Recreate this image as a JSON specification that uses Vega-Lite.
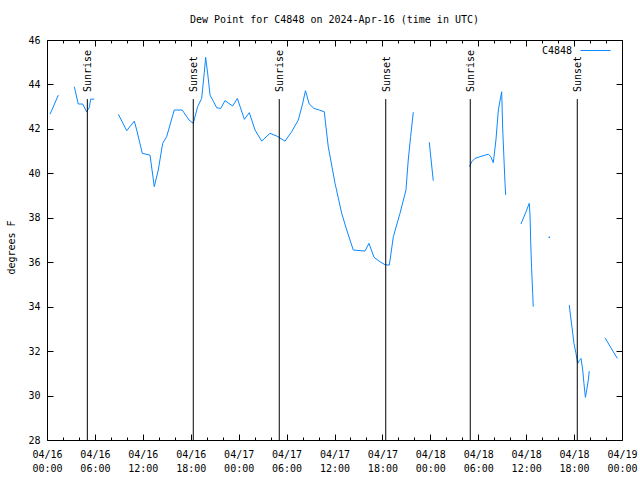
{
  "$schema": "https://vega.github.io/schema/vega-lite/v6.json",
  "width": 575,
  "height": 400,
  "autosize": "none",
  "padding": {"left": 47, "top": 40, "right": 18, "bottom": 40},
  "background": "white",
  "config": {
    "view": {"stroke": "black", "strokeWidth": 1},
    "font": "DejaVu Sans Mono",
    "axis": {
      "labelFont": "DejaVu Sans Mono", "labelFontSize": 10, "labelColor": "black",
      "tickColor": "black", "tickWidth": 1, "grid": false, "domain": false,
      "titleFont": "DejaVu Sans Mono", "titleFontSize": 10, "titleFontWeight": "normal", "titleColor": "black",
      "labelFlush": false, "labelOverlap": false
    },
    "legend": {"labelFont": "DejaVu Sans Mono", "labelFontSize": 10, "labelColor": "black"}
  },
  "title": {"text": "Dew Point for C4848 on 2024-Apr-16 (time in UTC)", "font": "DejaVu Sans Mono", "fontSize": 10, "fontWeight": "normal", "color": "black", "anchor": "middle", "offset": 10},
  "datasets": {
    "dew": [
      {"t": "2024-04-16T00:23:00Z", "v": 42.66, "s": 1},
      {"t": "2024-04-16T01:25:00Z", "v": 43.52, "s": 1},
      {"t": "2024-04-16T03:25:00Z", "v": 43.9, "s": 2},
      {"t": "2024-04-16T03:55:00Z", "v": 43.12, "s": 2},
      {"t": "2024-04-16T04:28:00Z", "v": 43.12, "s": 2},
      {"t": "2024-04-16T04:58:00Z", "v": 42.77, "s": 2},
      {"t": "2024-04-16T05:18:00Z", "v": 42.97, "s": 2},
      {"t": "2024-04-16T05:28:00Z", "v": 43.34, "s": 2},
      {"t": "2024-04-16T05:55:00Z", "v": 43.34, "s": 2},
      {"t": "2024-04-16T08:56:00Z", "v": 42.66, "s": 3},
      {"t": "2024-04-16T09:59:00Z", "v": 41.92, "s": 3},
      {"t": "2024-04-16T10:56:00Z", "v": 42.35, "s": 3},
      {"t": "2024-04-16T11:14:00Z", "v": 41.95, "s": 3},
      {"t": "2024-04-16T11:56:00Z", "v": 40.9, "s": 3},
      {"t": "2024-04-16T12:54:00Z", "v": 40.82, "s": 3},
      {"t": "2024-04-16T13:26:00Z", "v": 39.4, "s": 3},
      {"t": "2024-04-16T13:56:00Z", "v": 40.15, "s": 3},
      {"t": "2024-04-16T14:29:00Z", "v": 41.35, "s": 3},
      {"t": "2024-04-16T14:59:00Z", "v": 41.65, "s": 3},
      {"t": "2024-04-16T15:56:00Z", "v": 42.85, "s": 3},
      {"t": "2024-04-16T16:56:00Z", "v": 42.85, "s": 3},
      {"t": "2024-04-16T17:47:00Z", "v": 42.4, "s": 3},
      {"t": "2024-04-16T18:19:00Z", "v": 42.25, "s": 3},
      {"t": "2024-04-16T18:52:00Z", "v": 43.0, "s": 3},
      {"t": "2024-04-16T19:22:00Z", "v": 43.37, "s": 3},
      {"t": "2024-04-16T19:42:00Z", "v": 44.55, "s": 3},
      {"t": "2024-04-16T19:52:00Z", "v": 45.22, "s": 3},
      {"t": "2024-04-16T20:07:00Z", "v": 44.5, "s": 3},
      {"t": "2024-04-16T20:25:00Z", "v": 43.52, "s": 3},
      {"t": "2024-04-16T20:49:00Z", "v": 43.25, "s": 3},
      {"t": "2024-04-16T21:15:00Z", "v": 42.95, "s": 3},
      {"t": "2024-04-16T21:45:00Z", "v": 42.92, "s": 3},
      {"t": "2024-04-16T22:17:00Z", "v": 43.27, "s": 3},
      {"t": "2024-04-16T23:15:00Z", "v": 43.03, "s": 3},
      {"t": "2024-04-16T23:50:00Z", "v": 43.37, "s": 3},
      {"t": "2024-04-17T00:43:00Z", "v": 42.43, "s": 3},
      {"t": "2024-04-17T01:20:00Z", "v": 42.73, "s": 3},
      {"t": "2024-04-17T02:03:00Z", "v": 41.95, "s": 3},
      {"t": "2024-04-17T02:53:00Z", "v": 41.45, "s": 3},
      {"t": "2024-04-17T03:55:00Z", "v": 41.8, "s": 3},
      {"t": "2024-04-17T04:46:00Z", "v": 41.68, "s": 3},
      {"t": "2024-04-17T05:48:00Z", "v": 41.45, "s": 3},
      {"t": "2024-04-17T06:38:00Z", "v": 41.87, "s": 3},
      {"t": "2024-04-17T07:28:00Z", "v": 42.4, "s": 3},
      {"t": "2024-04-17T07:58:00Z", "v": 43.07, "s": 3},
      {"t": "2024-04-17T08:22:00Z", "v": 43.72, "s": 3},
      {"t": "2024-04-17T08:50:00Z", "v": 43.12, "s": 3},
      {"t": "2024-04-17T09:26:00Z", "v": 42.92, "s": 3},
      {"t": "2024-04-17T10:06:00Z", "v": 42.85, "s": 3},
      {"t": "2024-04-17T10:43:00Z", "v": 42.77, "s": 3},
      {"t": "2024-04-17T11:13:00Z", "v": 41.2, "s": 3},
      {"t": "2024-04-17T12:04:00Z", "v": 39.55, "s": 3},
      {"t": "2024-04-17T12:54:00Z", "v": 38.2, "s": 3},
      {"t": "2024-04-17T13:32:00Z", "v": 37.45, "s": 3},
      {"t": "2024-04-17T14:21:00Z", "v": 36.55, "s": 3},
      {"t": "2024-04-17T15:49:00Z", "v": 36.5, "s": 3},
      {"t": "2024-04-17T16:19:00Z", "v": 36.85, "s": 3},
      {"t": "2024-04-17T16:57:00Z", "v": 36.22, "s": 3},
      {"t": "2024-04-17T17:42:00Z", "v": 36.02, "s": 3},
      {"t": "2024-04-17T18:19:00Z", "v": 35.89, "s": 3},
      {"t": "2024-04-17T18:52:00Z", "v": 35.87, "s": 3},
      {"t": "2024-04-17T19:22:00Z", "v": 37.15, "s": 3},
      {"t": "2024-04-17T20:12:00Z", "v": 38.2, "s": 3},
      {"t": "2024-04-17T20:57:00Z", "v": 39.25, "s": 3},
      {"t": "2024-04-17T21:14:00Z", "v": 40.6, "s": 3},
      {"t": "2024-04-17T21:32:00Z", "v": 41.65, "s": 3},
      {"t": "2024-04-17T21:52:00Z", "v": 42.75, "s": 3},
      {"t": "2024-04-17T23:52:00Z", "v": 41.4, "s": 4},
      {"t": "2024-04-18T00:22:00Z", "v": 39.67, "s": 4},
      {"t": "2024-04-18T04:53:00Z", "v": 40.3, "s": 5},
      {"t": "2024-04-18T05:11:00Z", "v": 40.52, "s": 5},
      {"t": "2024-04-18T05:35:00Z", "v": 40.67, "s": 5},
      {"t": "2024-04-18T06:13:00Z", "v": 40.75, "s": 5},
      {"t": "2024-04-18T07:16:00Z", "v": 40.86, "s": 5},
      {"t": "2024-04-18T07:34:00Z", "v": 40.75, "s": 5},
      {"t": "2024-04-18T07:53:00Z", "v": 40.48, "s": 5},
      {"t": "2024-04-18T08:13:00Z", "v": 41.5, "s": 5},
      {"t": "2024-04-18T08:31:00Z", "v": 42.85, "s": 5},
      {"t": "2024-04-18T08:49:00Z", "v": 43.45, "s": 5},
      {"t": "2024-04-18T08:56:00Z", "v": 43.67, "s": 5},
      {"t": "2024-04-18T09:04:00Z", "v": 41.95, "s": 5},
      {"t": "2024-04-18T09:21:00Z", "v": 39.55, "s": 5},
      {"t": "2024-04-18T09:26:00Z", "v": 39.03, "s": 5},
      {"t": "2024-04-18T11:21:00Z", "v": 37.72, "s": 6},
      {"t": "2024-04-18T12:04:00Z", "v": 38.35, "s": 6},
      {"t": "2024-04-18T12:23:00Z", "v": 38.65, "s": 6},
      {"t": "2024-04-18T12:29:00Z", "v": 38.12, "s": 6},
      {"t": "2024-04-18T12:34:00Z", "v": 36.92, "s": 6},
      {"t": "2024-04-18T12:41:00Z", "v": 35.72, "s": 6},
      {"t": "2024-04-18T12:49:00Z", "v": 34.6, "s": 6},
      {"t": "2024-04-18T12:53:00Z", "v": 34.0, "s": 6},
      {"t": "2024-04-18T14:54:00Z", "v": 37.12, "s": 7},
      {"t": "2024-04-18T17:24:00Z", "v": 34.07, "s": 8},
      {"t": "2024-04-18T17:37:00Z", "v": 33.4, "s": 8},
      {"t": "2024-04-18T17:47:00Z", "v": 32.95, "s": 8},
      {"t": "2024-04-18T17:59:00Z", "v": 32.35, "s": 8},
      {"t": "2024-04-18T18:14:00Z", "v": 31.9, "s": 8},
      {"t": "2024-04-18T18:27:00Z", "v": 31.45, "s": 8},
      {"t": "2024-04-18T18:39:00Z", "v": 31.57, "s": 8},
      {"t": "2024-04-18T18:52:00Z", "v": 31.67, "s": 8},
      {"t": "2024-04-18T19:05:00Z", "v": 31.15, "s": 8},
      {"t": "2024-04-18T19:14:00Z", "v": 30.55, "s": 8},
      {"t": "2024-04-18T19:25:00Z", "v": 29.92, "s": 8},
      {"t": "2024-04-18T19:35:00Z", "v": 30.25, "s": 8},
      {"t": "2024-04-18T19:47:00Z", "v": 30.7, "s": 8},
      {"t": "2024-04-18T19:54:00Z", "v": 31.1, "s": 8},
      {"t": "2024-04-18T21:52:00Z", "v": 32.6, "s": 9},
      {"t": "2024-04-18T23:25:00Z", "v": 31.67, "s": 9}
    ],
    "sun": [
      {"t": "2024-04-16T05:03:00Z", "label": "Sunrise"},
      {"t": "2024-04-16T18:19:00Z", "label": "Sunset"},
      {"t": "2024-04-17T05:05:00Z", "label": "Sunrise"},
      {"t": "2024-04-17T18:25:00Z", "label": "Sunset"},
      {"t": "2024-04-18T05:00:00Z", "label": "Sunrise"},
      {"t": "2024-04-18T18:24:00Z", "label": "Sunset"}
    ]
  },
  "layer": [
    {
      "data": {"name": "dew"},
      "mark": {"type": "line", "strokeWidth": 1},
      "encoding": {
        "x": {
          "field": "t", "type": "temporal",
          "scale": {"type": "utc", "domain": [{"year": 2024, "month": 4, "date": 16, "utc": true}, {"year": 2024, "month": 4, "date": 19, "utc": true}]},
          "axis": {
            "orient": "bottom", "title": null, "tickSize": -6, "labelPadding": 15,
            "labelAlign": "center", "labelBaseline": "top", "labelLineHeight": 14,
            "labelExpr": "[utcFormat(datum.value, '%m/%d'), utcFormat(datum.value, '%H:%M')]",
            "values": [
              {"year": 2024, "month": 4, "date": 16, "hours": 0, "utc": true},
              {"year": 2024, "month": 4, "date": 16, "hours": 6, "utc": true},
              {"year": 2024, "month": 4, "date": 16, "hours": 12, "utc": true},
              {"year": 2024, "month": 4, "date": 16, "hours": 18, "utc": true},
              {"year": 2024, "month": 4, "date": 17, "hours": 0, "utc": true},
              {"year": 2024, "month": 4, "date": 17, "hours": 6, "utc": true},
              {"year": 2024, "month": 4, "date": 17, "hours": 12, "utc": true},
              {"year": 2024, "month": 4, "date": 17, "hours": 18, "utc": true},
              {"year": 2024, "month": 4, "date": 18, "hours": 0, "utc": true},
              {"year": 2024, "month": 4, "date": 18, "hours": 6, "utc": true},
              {"year": 2024, "month": 4, "date": 18, "hours": 12, "utc": true},
              {"year": 2024, "month": 4, "date": 18, "hours": 18, "utc": true},
              {"year": 2024, "month": 4, "date": 19, "hours": 0, "utc": true}
            ]
          }
        },
        "y": {
          "field": "v", "type": "quantitative",
          "scale": {"domain": [28, 46], "nice": false, "zero": false},
          "axis": {
            "orient": "left", "values": [28, 30, 32, 34, 36, 38, 40, 42, 44, 46],
            "tickSize": -6, "labelPadding": 13, "title": "degrees F",
            "titleAngle": 270, "titleX": -36, "titleY": 207, "titleAlign": "center", "titleBaseline": "middle"
          }
        },
        "color": {
          "datum": "C4848", "type": "nominal",
          "scale": {"range": ["#0a88ff"]},
          "legend": {
            "title": null, "orient": "none", "legendX": 533, "legendY": -5,
            "symbolType": "stroke", "symbolSize": 900, "symbolStrokeWidth": 1,
            "labelAlign": "right", "labelOffset": -39, "padding": 0
          }
        },
        "detail": {"field": "s", "type": "nominal"}
      }
    },
    {
      "data": {"name": "sun"},
      "mark": {"type": "rule", "color": "black", "strokeWidth": 1},
      "encoding": {
        "x": {
          "field": "t", "type": "temporal",
          "axis": {
            "orient": "top", "title": null, "labels": false, "tickSize": -6,
            "values": [
              {"year": 2024, "month": 4, "date": 16, "hours": 0, "utc": true},
              {"year": 2024, "month": 4, "date": 16, "hours": 6, "utc": true},
              {"year": 2024, "month": 4, "date": 16, "hours": 12, "utc": true},
              {"year": 2024, "month": 4, "date": 16, "hours": 18, "utc": true},
              {"year": 2024, "month": 4, "date": 17, "hours": 0, "utc": true},
              {"year": 2024, "month": 4, "date": 17, "hours": 6, "utc": true},
              {"year": 2024, "month": 4, "date": 17, "hours": 12, "utc": true},
              {"year": 2024, "month": 4, "date": 17, "hours": 18, "utc": true},
              {"year": 2024, "month": 4, "date": 18, "hours": 0, "utc": true},
              {"year": 2024, "month": 4, "date": 18, "hours": 6, "utc": true},
              {"year": 2024, "month": 4, "date": 18, "hours": 12, "utc": true},
              {"year": 2024, "month": 4, "date": 18, "hours": 18, "utc": true},
              {"year": 2024, "month": 4, "date": 19, "hours": 0, "utc": true}
            ]
          }
        },
        "y": {
          "datum": 43.34, "type": "quantitative",
          "axis": {"orient": "right", "title": null, "labels": false, "tickSize": -6, "values": [28, 30, 32, 34, 36, 38, 40, 42, 44, 46]}
        },
        "y2": {"datum": 28}
      }
    },
    {
      "data": {"name": "sun"},
      "mark": {"type": "text", "angle": 270, "align": "left", "baseline": "middle", "dx": 7, "dy": 1, "font": "DejaVu Sans Mono", "fontSize": 10, "color": "black"},
      "encoding": {
        "x": {
          "field": "t", "type": "temporal",
          "axis": {
            "orient": "bottom", "title": null, "labels": false, "tickSize": -3,
            "values": [
              {"year": 2024, "month": 4, "date": 16, "hours": 2, "utc": true},
              {"year": 2024, "month": 4, "date": 16, "hours": 4, "utc": true},
              {"year": 2024, "month": 4, "date": 16, "hours": 8, "utc": true},
              {"year": 2024, "month": 4, "date": 16, "hours": 10, "utc": true},
              {"year": 2024, "month": 4, "date": 16, "hours": 14, "utc": true},
              {"year": 2024, "month": 4, "date": 16, "hours": 16, "utc": true},
              {"year": 2024, "month": 4, "date": 16, "hours": 20, "utc": true},
              {"year": 2024, "month": 4, "date": 16, "hours": 22, "utc": true},
              {"year": 2024, "month": 4, "date": 17, "hours": 2, "utc": true},
              {"year": 2024, "month": 4, "date": 17, "hours": 4, "utc": true},
              {"year": 2024, "month": 4, "date": 17, "hours": 8, "utc": true},
              {"year": 2024, "month": 4, "date": 17, "hours": 10, "utc": true},
              {"year": 2024, "month": 4, "date": 17, "hours": 14, "utc": true},
              {"year": 2024, "month": 4, "date": 17, "hours": 16, "utc": true},
              {"year": 2024, "month": 4, "date": 17, "hours": 20, "utc": true},
              {"year": 2024, "month": 4, "date": 17, "hours": 22, "utc": true},
              {"year": 2024, "month": 4, "date": 18, "hours": 2, "utc": true},
              {"year": 2024, "month": 4, "date": 18, "hours": 4, "utc": true},
              {"year": 2024, "month": 4, "date": 18, "hours": 8, "utc": true},
              {"year": 2024, "month": 4, "date": 18, "hours": 10, "utc": true},
              {"year": 2024, "month": 4, "date": 18, "hours": 14, "utc": true},
              {"year": 2024, "month": 4, "date": 18, "hours": 16, "utc": true},
              {"year": 2024, "month": 4, "date": 18, "hours": 20, "utc": true},
              {"year": 2024, "month": 4, "date": 18, "hours": 22, "utc": true}
            ]
          }
        },
        "y": {"datum": 43.34, "type": "quantitative", "axis": null},
        "text": {"field": "label", "type": "nominal"}
      }
    },
    {
      "data": {"name": "dew"},
      "transform": [{"filter": "datum.s == 7"}],
      "mark": {"type": "square", "size": 2, "color": "#0a88ff", "opacity": 1, "filled": true},
      "encoding": {
        "x": {
          "field": "t", "type": "temporal",
          "axis": {
            "orient": "top", "title": null, "labels": false, "tickSize": -3,
            "values": [
              {"year": 2024, "month": 4, "date": 16, "hours": 2, "utc": true},
              {"year": 2024, "month": 4, "date": 16, "hours": 4, "utc": true},
              {"year": 2024, "month": 4, "date": 16, "hours": 8, "utc": true},
              {"year": 2024, "month": 4, "date": 16, "hours": 10, "utc": true},
              {"year": 2024, "month": 4, "date": 16, "hours": 14, "utc": true},
              {"year": 2024, "month": 4, "date": 16, "hours": 16, "utc": true},
              {"year": 2024, "month": 4, "date": 16, "hours": 20, "utc": true},
              {"year": 2024, "month": 4, "date": 16, "hours": 22, "utc": true},
              {"year": 2024, "month": 4, "date": 17, "hours": 2, "utc": true},
              {"year": 2024, "month": 4, "date": 17, "hours": 4, "utc": true},
              {"year": 2024, "month": 4, "date": 17, "hours": 8, "utc": true},
              {"year": 2024, "month": 4, "date": 17, "hours": 10, "utc": true},
              {"year": 2024, "month": 4, "date": 17, "hours": 14, "utc": true},
              {"year": 2024, "month": 4, "date": 17, "hours": 16, "utc": true},
              {"year": 2024, "month": 4, "date": 17, "hours": 20, "utc": true},
              {"year": 2024, "month": 4, "date": 17, "hours": 22, "utc": true},
              {"year": 2024, "month": 4, "date": 18, "hours": 2, "utc": true},
              {"year": 2024, "month": 4, "date": 18, "hours": 4, "utc": true},
              {"year": 2024, "month": 4, "date": 18, "hours": 8, "utc": true},
              {"year": 2024, "month": 4, "date": 18, "hours": 10, "utc": true},
              {"year": 2024, "month": 4, "date": 18, "hours": 14, "utc": true},
              {"year": 2024, "month": 4, "date": 18, "hours": 16, "utc": true},
              {"year": 2024, "month": 4, "date": 18, "hours": 20, "utc": true},
              {"year": 2024, "month": 4, "date": 18, "hours": 22, "utc": true}
            ]
          }
        },
        "y": {"field": "v", "type": "quantitative", "axis": null}
      }
    }
  ],
  "resolve": {"axis": {"x": "independent", "y": "independent"}}
}
